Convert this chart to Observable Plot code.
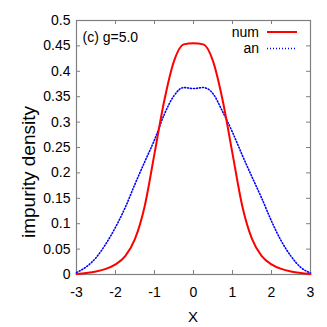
<!DOCTYPE html>
<html>
<head>
<meta charset="utf-8">
<script src="https://cdn.jsdelivr.net/npm/d3@7"></script>
<script src="https://cdn.jsdelivr.net/npm/@observablehq/plot@0.6"></script>
<style>
  html, body { margin: 0; padding: 0; background: #fff; }
  #chart svg { display: block; }
</style>
</head>
<body>
<div id="chart"></div>
<script>
const xs = [-3, -2.75, -2.5, -2.25, -2, -1.75, -1.5, -1.25, -1, -0.75, -0.5, -0.25, 0,
            0.25, 0.5, 0.75, 1, 1.25, 1.5, 1.75, 2, 2.25, 2.5, 2.75, 3];
const numValues = [0.001, 0.003, 0.006, 0.011, 0.02, 0.036, 0.07, 0.135, 0.238, 0.342, 0.42, 0.453, 0.455,
                   0.453, 0.42, 0.342, 0.238, 0.135, 0.07, 0.036, 0.02, 0.011, 0.006, 0.003, 0.001];
const anValues = [0.004, 0.015, 0.033, 0.06, 0.093, 0.132, 0.178, 0.222, 0.265, 0.315, 0.352, 0.368, 0.366,
                  0.368, 0.356, 0.32, 0.28, 0.235, 0.192, 0.15, 0.105, 0.066, 0.036, 0.014, 0.003];
const xTicks = [-3, -2, -1, 0, 1, 2, 3];
const yTicks = [0, 0.05, 0.1, 0.15, 0.2, 0.25, 0.3, 0.35, 0.4, 0.45, 0.5];
const seriesNames = ["num", "an"];
const seriesColors = ["#ff0000", "#0000ff"];
const annotation = "(c) g=5.0";
const xLabel = "X";
const yLabel = "impurity density";

const numData = xs.map((x, i) => ({x, y: numValues[i]}));
const anData = xs.map((x, i) => ({x, y: anValues[i]}));

const W = 327, H = 327;
const mL = 76, mR = 17, mT = 20, mB = 53;
const innerW = W - mL - mR, innerH = H - mT - mB;
const font = "'Liberation Sans Narrow', 'Liberation Sans', Arial, sans-serif";
const grey = "#808080";
const dots = "1,2";

const plot = Plot.plot({
  width: W, height: H,
  marginLeft: mL, marginRight: mR, marginTop: mT, marginBottom: mB,
  style: {fontFamily: font, fontSize: "14px", color: "#000", background: "#fff"},
  x: {domain: [-3, 3]},
  y: {domain: [0, 0.5]},
  marks: [
    Plot.frame({stroke: grey, strokeWidth: 1.2}),
    Plot.tickX(xTicks, {x: d => d, stroke: grey, insetTop: innerH - 4}),
    Plot.tickX(xTicks, {x: d => d, stroke: grey, insetBottom: innerH - 4}),
    Plot.tickY(yTicks, {y: d => d, stroke: grey, insetRight: innerW - 4}),
    Plot.tickY(yTicks, {y: d => d, stroke: grey, insetLeft: innerW - 4}),
    Plot.axisX(xTicks, {tickSize: 0, tickPadding: 13, label: null, fontSize: 14, tickFormat: d => String(d)}),
    Plot.axisY(yTicks, {tickSize: 0, tickPadding: 6, label: null, fontSize: 14, tickFormat: d => String(d)}),
    Plot.line(anData, {x: "x", y: "y", stroke: seriesColors[1], strokeWidth: 1.6, strokeDasharray: dots, curve: "monotone-x"}),
    Plot.line(numData, {x: "x", y: "y", stroke: seriesColors[0], strokeWidth: 2, curve: "monotone-x"}),
    Plot.text([annotation], {frameAnchor: "top-left", dx: 6, dy: 12, fontSize: 14, textAnchor: "start"})
  ]
});

const svg = d3.select(plot);
// legend
seriesNames.forEach((name, i) => {
  const y = 32 + i * 16.5;
  svg.append("text").attr("x", 259).attr("y", y).attr("dy", "0.35em")
    .attr("text-anchor", "end").attr("font-family", font).attr("font-size", 14).attr("fill", "#000")
    .text(name);
  svg.append("line").attr("x1", 267).attr("x2", 297).attr("y1", y).attr("y2", y)
    .attr("stroke", seriesColors[i]).attr("stroke-width", i === 1 ? 1.6 : 2)
    .attr("stroke-dasharray", i === 1 ? dots : null);
});
// axis labels
svg.append("text").attr("x", mL + innerW / 2).attr("y", 322)
  .attr("text-anchor", "middle").attr("font-family", font).attr("font-size", 15).attr("fill", "#000")
  .text(xLabel);
svg.append("text").attr("transform", `translate(35,${mT + innerH / 2 + 25}) rotate(-90)`)
  .attr("text-anchor", "middle").attr("font-family", "'Liberation Sans', Arial, sans-serif").attr("font-size", 19).attr("fill", "#000")
  .text(yLabel);

document.getElementById("chart").appendChild(plot);
</script>
</body>
</html>
